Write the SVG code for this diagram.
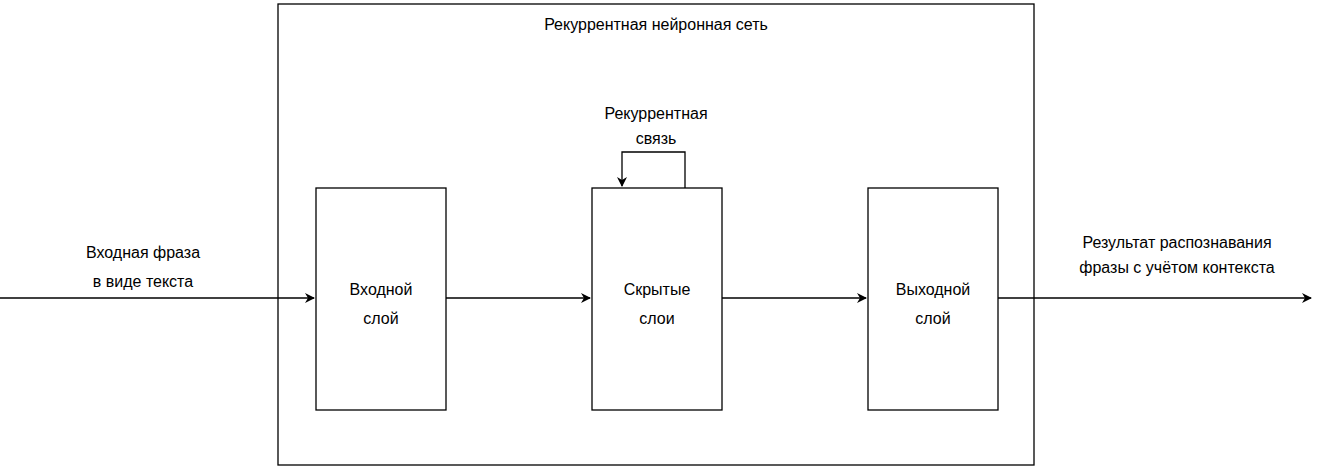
<svg xmlns="http://www.w3.org/2000/svg" width="1318" height="473" viewBox="0 0 1318 473">
<style>
.b{fill:#fff;stroke:#000;stroke-width:1.3}
.c{fill:none;stroke:#000;stroke-width:1.3}
text{font-family:"Liberation Sans",Arial,sans-serif;font-size:16px;fill:#000;text-anchor:middle}
</style>
<defs><marker id="a" viewBox="0 0 10 10" refX="9" refY="5" markerWidth="10" markerHeight="10" markerUnits="userSpaceOnUse" orient="auto"><path d="M0,0 L10,5 L0,10 L3,5 Z" fill="#000"/></marker></defs>
<rect width="1318" height="473" fill="#fff"/>
<g id="rnn"><rect class="b" x="278" y="4" width="756" height="461"/><text x="656" y="30">Рекуррентная нейронная сеть</text></g>
<g id="in"><rect class="b" x="316" y="188" width="130" height="222"/><text x="381" y="295">Входной</text><text x="381" y="324">слой</text></g>
<g id="hid"><rect class="b" x="592" y="188" width="130" height="222"/><text x="657" y="295">Скрытые</text><text x="657" y="324">слои</text></g>
<g id="out"><rect class="b" x="868" y="188" width="130" height="222"/><text x="933" y="295">Выходной</text><text x="933" y="324">слой</text></g>
<g id="connectors">
<path class="c" d="M0,298 H314" marker-end="url(#a)"/>
<path class="c" d="M446,298 H590" marker-end="url(#a)"/>
<path class="c" d="M722,298 H866" marker-end="url(#a)"/>
<path class="c" d="M998,298 H1311" marker-end="url(#a)"/>
<path class="c" d="M685,188 V152 H622 V186" marker-end="url(#a)"/>
<text x="143" y="258">Входная фраза</text><text x="143" y="287">в виде текста</text>
<text x="1177" y="248">Результат распознавания</text><text x="1177" y="273">фразы с учётом контекста</text>
<text x="656" y="119">Рекуррентная</text><text x="656" y="144">связь</text>
</g>
</svg>
